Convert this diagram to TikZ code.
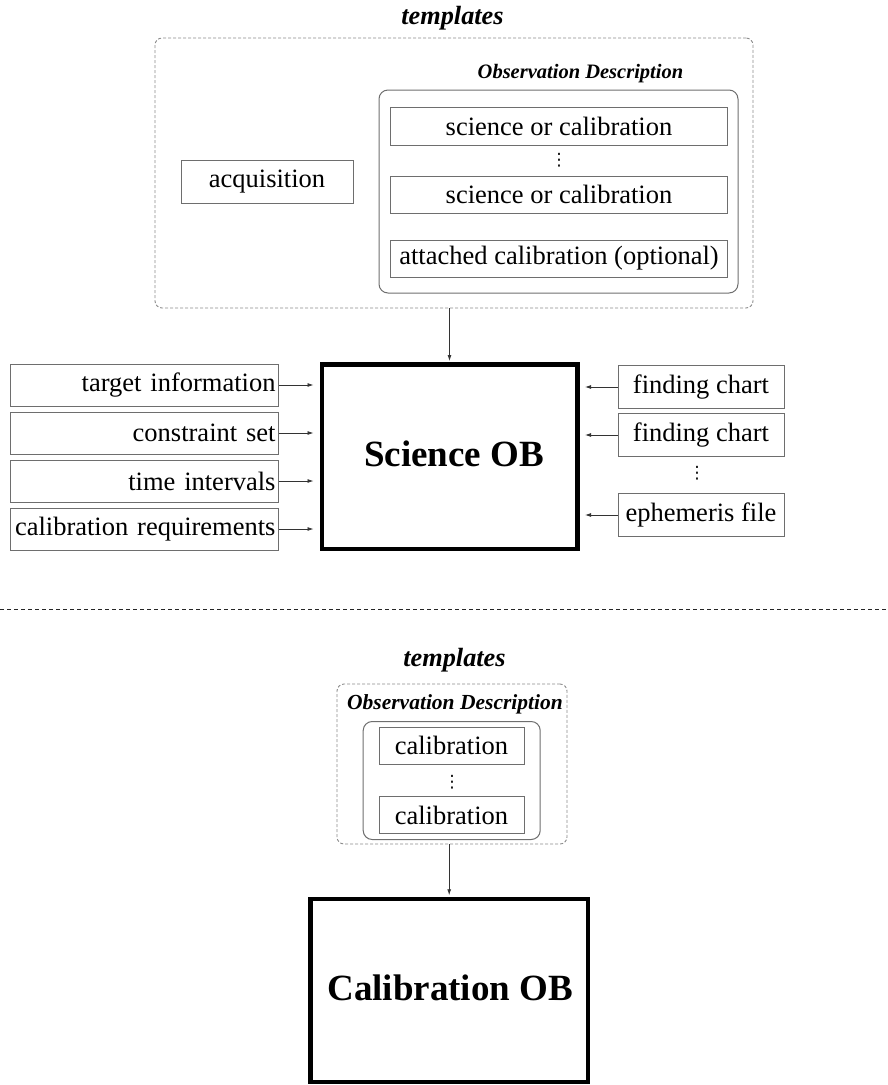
\documentclass[tikz,border=0pt]{standalone}
\usepackage{fontspec}
\setmainfont{Liberation Serif}
\newfontfamily\dotsfont{DejaVu Sans}
\usetikzlibrary{arrows.meta}
\definecolor{boxgray}{HTML}{6E6E6E}
\definecolor{dashgray}{HTML}{8A8A8A}
\begin{document}
\begin{tikzpicture}[x=1pt,y=-1pt,
  thinbox/.style={draw=boxgray, line width=1pt, inner sep=0pt, font=\fontsize{26.5}{30}\selectfont},
  thickbox/.style={draw=black, line width=4.5pt, inner sep=0pt, text height=19pt, text depth=0pt, font=\fontsize{37}{42}\selectfont\bfseries},
  dashbox/.style={draw=dashgray, line width=0.9pt, dash pattern=on 3pt off 2pt, rounded corners=7pt, inner sep=0pt},
  groupbox/.style={draw=boxgray, line width=1pt, rounded corners=9pt, inner sep=0pt},
  title/.style={font=\fontsize{26.3}{30}\selectfont\bfseries\itshape, inner sep=0pt},
  subtitle/.style={font=\fontsize{#1}{24}\selectfont\bfseries\itshape, inner sep=0pt},
  dots/.style={font=\fontsize{17}{19}\selectfont\dotsfont, inner sep=0pt},
  leftbox/.style={thinbox, minimum width=268pt, minimum height=42pt, text width=262pt, inner xsep=3pt, align=right},
  rightbox/.style={thinbox, minimum width=166pt, minimum height=43pt},
  link/.style={draw=black!80, line width=0.8pt, -{Latex[length=6pt,width=4pt]}}
]
\useasboundingbox (0,0) rectangle (887,1085);

% ---------- top: templates ----------
\node[title] (t1) at (452.5,18) {templates};
\node[dashbox, minimum width=598pt, minimum height=270pt] (tpl) at (454,173) {};
\node[subtitle=20.5] (od1) at (580.5,74) {Observation Description};
\node[groupbox, minimum width=359pt, minimum height=203pt] (grp) at (558.5,191.5) {};
\node[thinbox, minimum width=172pt, minimum height=43pt] (acq) at (267,181.5) {acquisition};
\node[thinbox, minimum width=337pt, minimum height=38pt] (sc1) at (559,126) {science or calibration};
\node[dots] (vd1) at (559,160) {⋮};
\node[thinbox, minimum width=337pt, minimum height=37pt] (sc2) at (559,194.5) {science or calibration};
\node[thinbox, minimum width=337pt, minimum height=37pt] (att) at (559,258.5) {attached calibration (optional)};

% ---------- Science OB ----------
\node[thickbox, minimum width=255.5pt, minimum height=184.5pt] (sob) at (449.5,456.5) {\hspace*{9pt}Science OB};
\draw[link, shorten >=1pt] (tpl.south -| sob.north) -- (sob.north);

\node[leftbox] (ti) at (144.5,385) {target information};
\node[leftbox] (cs) at (144.5,433) {constraint set};
\node[leftbox] (tv) at (144.5,481) {time intervals};
\node[leftbox] (cr) at (144.5,529) {calibration requirements};
\foreach \n in {ti,cs,tv,cr}
  \draw[link, shorten >=6pt] (\n.east) -- (\n.east -| sob.west);

\node[rightbox] (fc1) at (701,387) {finding chart};
\node[rightbox] (fc2) at (701,435) {finding chart};
\node[dots] (vd2) at (697,473) {⋮};
\node[rightbox] (eph) at (701,515) {ephemeris file};
\foreach \n in {fc1,fc2,eph}
  \draw[link, shorten >=5.5pt] (\n.west) -- (\n.west -| sob.east);

% ---------- separator ----------
\coordinate (sepL) at (0,609);
\coordinate (sepR) at (887,609);
\draw[black!85, line width=1pt, dash pattern=on 4pt off 3pt] (sepL) -- (sepR);

% ---------- bottom: calibration ----------
\node[title] (t2) at (454.5,660) {templates};
\node[dashbox, minimum width=230pt, minimum height=160pt] (tpl2) at (452,764) {};
\node[subtitle=21.5] (od2) at (455,704) {Observation Description};
\node[groupbox, minimum width=177pt, minimum height=118pt] (grp2) at (451.7,780.5) {};
\node[thinbox, minimum width=145pt, minimum height=37pt] (cal1) at (451.5,745.7) {calibration};
\node[dots] (vd3) at (452,782) {⋮};
\node[thinbox, minimum width=145pt, minimum height=37pt] (cal2) at (451.5,815) {calibration};

\node[thickbox, minimum width=277.5pt, minimum height=183pt] (cob) at (449.2,990.5) {\hspace*{2pt}Calibration OB};
\draw[link, shorten >=1.5pt] (tpl2.south -| cob.north) -- (cob.north);
\end{tikzpicture}
\end{document}
